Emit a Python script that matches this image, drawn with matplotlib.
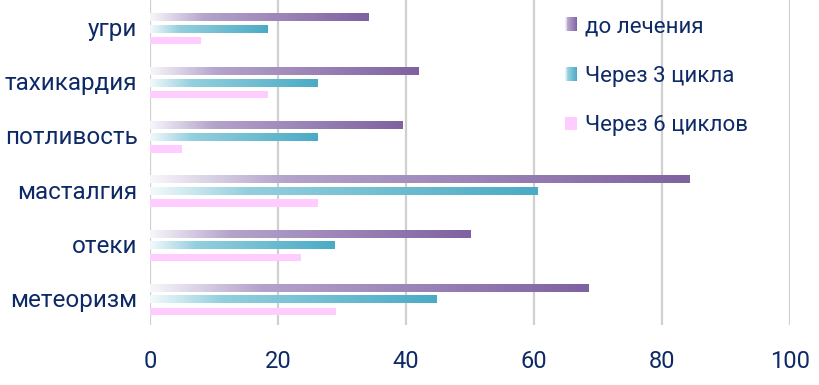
import numpy as np
import matplotlib.pyplot as plt
from matplotlib.colors import LinearSegmentedColormap
from matplotlib.legend_handler import HandlerBase
from matplotlib.patches import Rectangle

categories = ['метеоризм', 'отеки', 'масталгия', 'потливость', 'тахикардия', 'угри']
series = ['до лечения', 'Через 3 цикла', 'Через 6 циклов']
before = [68.6, 50.1, 84.3, 39.4, 42.0, 34.2]
after3 = [44.8, 28.9, 60.6, 26.2, 26.2, 18.4]
after6 = [29.0, 23.6, 26.3, 5.0, 18.4, 7.9]
xticks = [0, 20, 40, 60, 80, 100]

navy = '#0e2a66'
purple = LinearSegmentedColormap.from_list('p', [(0, '#f8f6fa'), (0.25, '#b4a3cb'), (1, '#7f62a0')])
teal = LinearSegmentedColormap.from_list('t', [(0, '#f2f9fb'), (0.25, '#93cfde'), (1, '#4aabc5')])
pink = '#ffccff'

plt.rcParams['font.family'] = ['Roboto', 'DejaVu Sans']

fig = plt.figure(figsize=(8.2, 3.85), dpi=100)
ax = fig.add_axes([0.183, 0.156, 0.780, 0.844])

y = np.arange(len(categories))
h = 0.135
off = 0.215
shift = -0.035
grad = np.linspace(0, 1, 256).reshape(1, -1)

for vals, dy, cmap in [(before, off, purple), (after3, 0, teal)]:
    bars = ax.barh(y + dy + shift, vals, height=h, color='none', zorder=3)
    for b in bars:
        x0, y0, w, hh = b.get_x(), b.get_y(), b.get_width(), b.get_height()
        ax.imshow(grad, cmap=cmap, aspect='auto', extent=[x0, x0 + w, y0, y0 + hh],
                  zorder=3, interpolation='bilinear')
ax.barh(y - off + shift, after6, height=h, color=pink, zorder=3)

ax.set_xlim(0, 100)
ax.set_ylim(-0.5, 5.5)
ax.set_xticks(xticks)
ax.set_yticks(y, categories)
ax.grid(axis='x', color='#d0d0d0', linewidth=1.6, zorder=0)
ax.set_axisbelow(True)
for s in ax.spines.values():
    s.set_visible(False)
ax.tick_params(length=0, colors=navy)
ax.tick_params(axis='x', labelsize=17, pad=18)
ax.tick_params(axis='y', labelsize=17.5, pad=9)


class GradHandler(HandlerBase):
    def __init__(self, cmap):
        super().__init__()
        self.cmap = cmap

    def create_artists(self, legend, orig_handle, xdescent, ydescent, width, height, fontsize, trans):
        n = 16
        arts = []
        for i in range(n):
            r = Rectangle((-xdescent + width * i / n, -ydescent), width / n + 0.2, height,
                          facecolor=self.cmap((i + 0.5) / n), edgecolor='none', transform=trans)
            arts.append(r)
        return arts


hp = Rectangle((0, 0), 1, 1)
ht = Rectangle((0, 0), 1, 1)
hk = Rectangle((0, 0), 1, 1, facecolor=pink)
leg = ax.legend([hp, ht, hk], series, handler_map={hp: GradHandler(purple), ht: GradHandler(teal)},
                loc='upper left', bbox_to_anchor=(565 / 820, 1 - 16 / 385), bbox_transform=fig.transFigure,
                frameon=False, fontsize=16, labelcolor=navy, handlelength=0.55, handleheight=0.55,
                handletextpad=0.35, labelspacing=1.29, borderpad=0, borderaxespad=0)

fig.savefig('out.png', dpi=100)
